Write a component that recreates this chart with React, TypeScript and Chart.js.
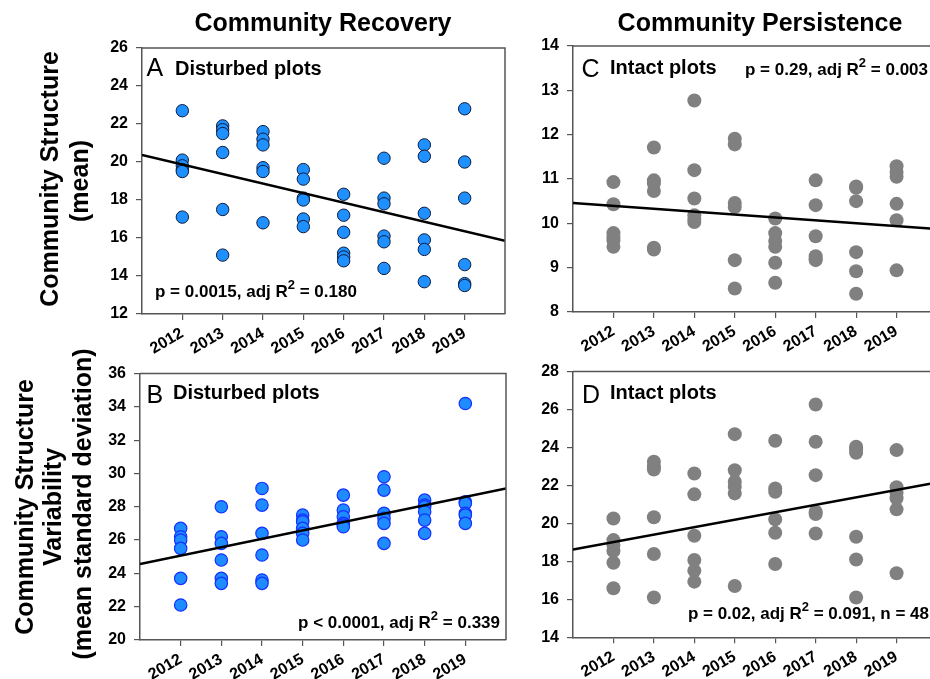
import React, { useEffect, useRef } from "react";
import { Chart, registerables } from "chart.js";
Chart.register(...registerables);

const years = [2012, 2013, 2014, 2015, 2016, 2017, 2018, 2019];
const fitYears = [2011, 2020];

// Panel A: community structure (mean), disturbed plots
const structureDisturbed = [
  [22.7, 20.1, 19.8, 19.6, 19.5, 17.1],
  [21.9, 21.7, 21.5, 20.5, 17.5, 15.1],
  [21.6, 21.2, 20.9, 19.7, 19.5, 16.8],
  [19.6, 19.1, 18.1, 18.0, 17.0, 16.6],
  [18.3, 17.2, 16.3, 15.2, 15.0, 14.8],
  [20.2, 18.1, 17.8, 16.1, 15.8, 14.4],
  [20.9, 20.3, 17.3, 15.9, 15.4, 13.7],
  [22.8, 20.0, 18.1, 14.6, 13.6, 13.5],
];
const fitA = [20.37, 15.86];

// Panel B: community structure variability, disturbed plots
const variabilityDisturbed = [
  [26.7, 26.2, 26.0, 25.5, 23.7, 22.1],
  [28.0, 26.2, 25.8, 24.8, 23.7, 23.4],
  [29.1, 28.1, 26.4, 25.1, 23.6, 23.4],
  [27.5, 27.2, 27.1, 26.7, 26.4, 26.0],
  [28.7, 27.8, 27.4, 27.0, 26.9, 26.8],
  [29.8, 29.0, 27.6, 27.3, 27.0, 25.8],
  [28.4, 28.1, 28.0, 27.7, 27.2, 26.4],
  [34.2, 28.3, 28.2, 27.6, 27.5, 27.0],
];
const fitB = [24.56, 29.1];

// Panel C: community structure (mean), intact plots
const structureIntact = [
  [10.93, 10.43, 9.78, 9.7, 9.62, 9.47],
  [11.71, 10.97, 10.9, 10.73, 9.45, 9.41],
  [12.77, 11.2, 10.56, 10.18, 10.1, 10.03],
  [11.91, 11.78, 10.46, 10.37, 9.17, 8.53],
  [10.11, 9.78, 9.6, 9.47, 9.11, 8.66],
  [10.97, 10.41, 9.71, 9.26, 9.2, 9.17],
  [10.83, 10.8, 10.5, 9.35, 8.92, 8.41],
  [11.29, 11.16, 11.05, 10.44, 10.07, 8.94],
];
const fitC = [10.46, 9.87];

// Panel D: community structure variability, intact plots
const variabilityIntact = [
  [20.26, 19.12, 18.86, 18.54, 17.93, 16.58],
  [23.25, 23.0, 22.84, 20.32, 18.39, 16.1],
  [22.63, 21.53, 19.35, 18.07, 17.51, 16.93],
  [24.7, 22.8, 22.19, 21.93, 21.58, 16.7],
  [24.35, 21.84, 21.67, 20.21, 19.51, 17.86],
  [26.26, 24.3, 22.54, 20.61, 20.49, 19.47],
  [24.04, 23.9, 23.72, 19.3, 18.1, 16.1],
  [23.86, 21.9, 21.61, 21.32, 20.74, 17.37],
];
const fitD = [18.63, 22.15];

const FONT = "'Liberation Sans', Arial, Helvetica, sans-serif";
const AXIS_COLOR = "#555";

type Part = { t: string; size: number; bold?: boolean; dy?: number };
type TextItem = { x: number; y: number; parts: Part[]; align?: "left" | "center" | "right"; rotate?: boolean };

function fontOf(p: Part) {
  return `${p.bold === false ? "normal" : "bold"} ${p.size}px ${FONT}`;
}

const textPlugin = {
  id: "panelText",
  afterDraw(chart: any) {
    const opts = chart.options.plugins.panelText;
    if (!opts) return;
    const ctx = chart.ctx;
    const ca = chart.chartArea;
    ctx.save();
    // frame (top and right sides)
    ctx.strokeStyle = AXIS_COLOR;
    ctx.lineWidth = 1.5;
    ctx.beginPath();
    ctx.moveTo(ca.left, ca.top);
    ctx.lineTo(ca.right, ca.top);
    ctx.lineTo(ca.right, ca.bottom);
    ctx.stroke();
    ctx.fillStyle = "#000";
    ctx.textBaseline = "alphabetic";
    for (const item of opts.items as TextItem[]) {
      let total = 0;
      for (const p of item.parts) {
        ctx.font = fontOf(p);
        total += ctx.measureText(p.t).width;
      }
      const px = item.x - opts.ox;
      const py = item.y - opts.oy;
      ctx.save();
      ctx.translate(px, py);
      if (item.rotate) ctx.rotate(-Math.PI / 2);
      let start = 0;
      if (item.align === "center") start = -total / 2;
      else if (item.align === "right") start = -total;
      ctx.textAlign = "left";
      for (const p of item.parts) {
        ctx.font = fontOf(p);
        ctx.fillText(p.t, start, p.dy || 0);
        start += ctx.measureText(p.t).width;
      }
      ctx.restore();
    }
    ctx.restore();
  },
};

type PanelSpec = {
  left: number;
  top: number;
  width: number;
  height: number;
  padTop: number;
  padRight: number;
  yWidth: number;
  xHeight: number;
  yMin: number;
  yMax: number;
  yStep: number;
  values: number[][];
  fit: number[];
  fill: string;
  stroke: string;
  strokeWidth: number;
  radius: number;
  items: TextItem[];
};

function pTextParts(a: string, b: string): Part[] {
  return [
    { t: a, size: 17 },
    { t: "2", size: 13, dy: -8 },
    { t: b, size: 17 },
  ];
}

const panels: PanelSpec[] = [
  {
    left: 0, top: 0, width: 525, height: 365, padTop: 48, padRight: 20, yWidth: 142, xHeight: 51,
    yMin: 12, yMax: 26, yStep: 2, values: structureDisturbed, fit: fitA,
    fill: "#1E90FF", stroke: "#0d1b3d", strokeWidth: 1, radius: 6.2,
    items: [
      { x: 323, y: 31, align: "center", parts: [{ t: "Community Recovery", size: 25 }] },
      { x: 58, y: 179, align: "center", rotate: true, parts: [{ t: "Community Structure", size: 25 }] },
      { x: 88, y: 181, align: "center", rotate: true, parts: [{ t: "(mean)", size: 25 }] },
      { x: 146.5, y: 76, parts: [{ t: "A", size: 25, bold: false }] },
      { x: 175, y: 75, parts: [{ t: "Disturbed plots", size: 20 }] },
      { x: 155, y: 297, parts: pTextParts("p = 0.0015, adj R", " = 0.180") },
    ],
  },
  {
    left: 0, top: 330, width: 525, height: 349, padTop: 43.5, padRight: 19, yWidth: 140, xHeight: 39,
    yMin: 20, yMax: 36, yStep: 2, values: variabilityDisturbed, fit: fitB,
    fill: "#1E8CFF", stroke: "#1530ff", strokeWidth: 1.2, radius: 6.2,
    items: [
      { x: 33, y: 507, align: "center", rotate: true, parts: [{ t: "Community Structure", size: 25 }] },
      { x: 61, y: 507, align: "center", rotate: true, parts: [{ t: "Variability", size: 25 }] },
      { x: 91, y: 504, align: "center", rotate: true, parts: [{ t: "(mean standard deviation)", size: 25 }] },
      { x: 146.5, y: 402.5, parts: [{ t: "B", size: 25, bold: false }] },
      { x: 173, y: 399, parts: [{ t: "Disturbed plots", size: 20 }] },
      { x: 500, y: 628, align: "right", parts: pTextParts("p < 0.0001, adj R", " = 0.339") },
    ],
  },
  {
    left: 525, top: 0, width: 425, height: 365, padTop: 46, padRight: 13, yWidth: 48, xHeight: 53,
    yMin: 8, yMax: 14, yStep: 1, values: structureIntact, fit: fitC,
    fill: "#808080", stroke: "#808080", strokeWidth: 0, radius: 7,
    items: [
      { x: 760, y: 31, align: "center", parts: [{ t: "Community Persistence", size: 25 }] },
      { x: 581.5, y: 76.5, parts: [{ t: "C", size: 25, bold: false }] },
      { x: 610, y: 73.5, parts: [{ t: "Intact plots", size: 20 }] },
      { x: 745, y: 75, parts: pTextParts("p = 0.29, adj R", " = 0.003") },
    ],
  },
  {
    left: 525, top: 330, width: 425, height: 349, padTop: 41.5, padRight: 13, yWidth: 48, xHeight: 41.7,
    yMin: 14, yMax: 28, yStep: 2, values: variabilityIntact, fit: fitD,
    fill: "#808080", stroke: "#808080", strokeWidth: 0, radius: 7,
    items: [
      { x: 582, y: 403, parts: [{ t: "D", size: 25, bold: false }] },
      { x: 610, y: 399, parts: [{ t: "Intact plots", size: 20 }] },
      { x: 929, y: 619, align: "right", parts: pTextParts("p = 0.02, adj R", " = 0.091, n = 48") },
    ],
  },
];

function Panel({ spec }: { spec: PanelSpec }) {
  const ref = useRef<HTMLCanvasElement>(null);
  useEffect(() => {
    if (!ref.current) return;
    const points: { x: number; y: number }[] = [];
    spec.values.forEach((vals, i) => vals.forEach((v) => points.push({ x: years[i], y: v })));
    const fitLine = fitYears.map((yr, i) => ({ x: yr, y: spec.fit[i] }));
    const tickFont = { family: FONT, size: 16, weight: "bold" as const };
    const chart = new Chart(ref.current, {
      type: "scatter",
      data: {
        datasets: [
          {
            type: "line" as any,
            data: fitLine,
            borderColor: "#000",
            borderWidth: 2.5,
            pointRadius: 0,
            fill: false,
            order: 0,
          } as any,
          {
            data: points,
            backgroundColor: spec.fill,
            borderColor: spec.stroke,
            borderWidth: spec.strokeWidth,
            pointRadius: spec.radius,
            order: 1,
          },
        ],
      },
      options: {
        responsive: false,
        animation: false,
        layout: { padding: { top: spec.padTop, right: spec.padRight, left: 0, bottom: 0 } },
        plugins: {
          legend: { display: false },
          tooltip: { enabled: false },
          panelText: { ox: spec.left, oy: spec.top, items: spec.items },
        } as any,
        scales: {
          x: {
            type: "linear",
            min: 2011,
            max: 2020,
            afterBuildTicks: (s: any) => {
              s.ticks = years.map((v) => ({ value: v }));
            },
            afterFit: (s: any) => {
              s.height = spec.xHeight;
            },
            ticks: {
              autoSkip: false,
              minRotation: 30,
              maxRotation: 30,
              padding: 4,
              color: "#000",
              font: tickFont,
              callback: (v: any) => String(v),
            },
            grid: { display: true, drawOnChartArea: false, drawTicks: true, tickLength: 6, color: AXIS_COLOR, lineWidth: 1.2 },
            border: { display: true, color: AXIS_COLOR, width: 1.5 },
          },
          y: {
            type: "linear",
            min: spec.yMin,
            max: spec.yMax,
            afterFit: (s: any) => {
              s.width = spec.yWidth;
            },
            ticks: {
              stepSize: spec.yStep,
              padding: 8,
              color: "#000",
              font: tickFont,
              callback: (v: any) => String(v),
            },
            grid: { display: true, drawOnChartArea: false, drawTicks: true, tickLength: 6, color: AXIS_COLOR, lineWidth: 1.2 },
            border: { display: true, color: AXIS_COLOR, width: 1.5 },
          },
        },
      },
      plugins: [textPlugin as any],
    });
    return () => chart.destroy();
  }, [spec]);
  return (
    <canvas
      ref={ref}
      width={spec.width}
      height={spec.height}
      style={{ position: "absolute", left: spec.left, top: spec.top, width: spec.width, height: spec.height }}
    />
  );
}

export default function App() {
  return (
    <div
      style={{
        position: "fixed",
        left: 0,
        top: 0,
        width: 930,
        height: 679,
        overflow: "hidden",
        background: "#fff",
      }}
    >
      {panels.map((p, i) => (
        <Panel key={i} spec={p} />
      ))}
    </div>
  );
}
